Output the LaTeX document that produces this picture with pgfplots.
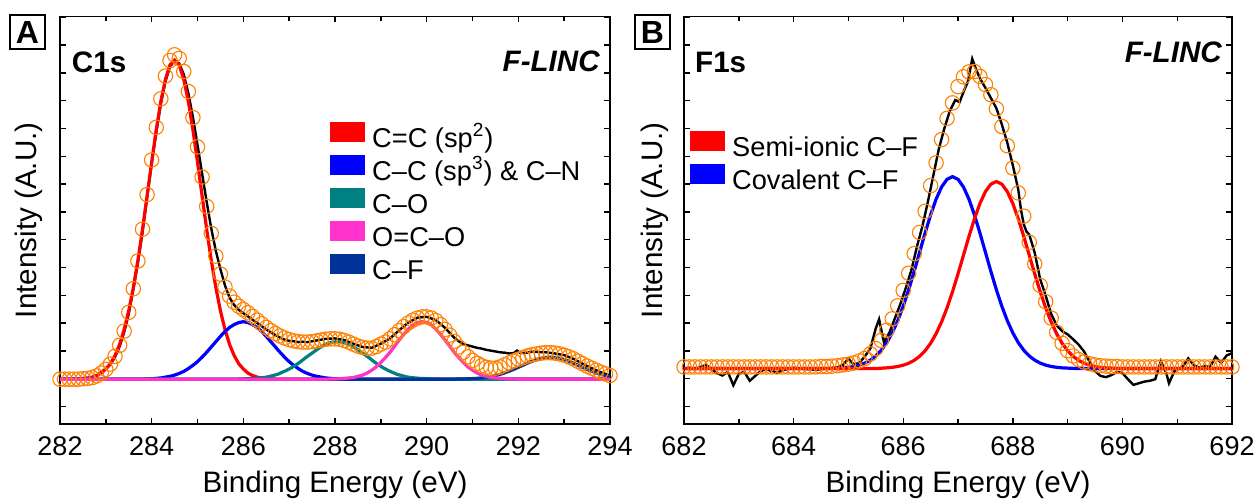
\documentclass[border=0pt]{standalone}
\usepackage{pgfplots}
\pgfplotsset{compat=1.18}
\usepackage{fontspec}
\setmainfont{Liberation Sans}

\definecolor{fitorange}{RGB}{255,128,0}
\definecolor{cteal}{RGB}{0,128,128}
\definecolor{cmag}{RGB}{255,51,204}
\definecolor{cnavy}{RGB}{0,51,153}

\tikzset{tag/.style={inner sep=0pt, font=\bfseries\fontsize{14.8}{17}\selectfont}}

\pgfplotsset{
  xps/.style={
    scale only axis, height=203.75pt,
    ymin=0, ymax=100,
    ytick={4.3,11.12,...,98}, yticklabels={},
    minor x tick num=1,
    tick align=inside,
    major tick length=3pt, minor tick length=2.5pt,
    axis line style={line width=0.8pt},
    every tick/.style={black, line width=0.7pt},
    tick label style={font=\fontsize{13.5}{15}\selectfont},
    xticklabel style={yshift=-3pt},
    /pgf/number format/assume math mode=true,
    xlabel={Binding Energy (eV)},
    ylabel={Intensity (A.U.)},
    label style={font=\fontsize{14.8}{17}\selectfont},
    xlabel style={at={(axis description cs:0.5,-0.15)}, anchor=center},
    legend cell align=left,
    legend image code/.code={\fill (0pt,-0.5pt) rectangle (17pt,9pt);},
    legend style={draw=none, fill=none, inner sep=0pt, row sep=0.3pt, column sep=3pt,
      anchor=north west, font=\fontsize{13.6}{15}\selectfont,
      nodes={inner sep=0.5pt, text height=10pt, text depth=3pt}},
  },
  fitpts/.style={only marks, mark=o, mark size=3.6pt, color=fitorange,
    mark options={line width=0.55pt}, forget plot},
  comp/.style={line width=1.6pt, no marks, forget plot},
  raw/.style={black, line width=1.2pt, no marks, forget plot},
}

\begin{document}
\begin{tikzpicture}
\path[use as bounding box] (0pt,0pt) rectangle (629pt,-251pt);

% panel labels
\node[draw, line width=0.8pt, inner sep=0pt, minimum width=17.5pt, minimum height=17pt,
  font=\bfseries\fontsize{16}{16}\selectfont] at (13.75pt,-16pt) {A};
\node[draw, line width=0.8pt, inner sep=0pt, minimum width=17.5pt, minimum height=17pt,
  font=\bfseries\fontsize{16}{16}\selectfont] at (326.25pt,-16pt) {B};

% ---------------- C1s ----------------
\begin{axis}[xps,
  at={(30pt,-8.25pt)}, anchor=north west, width=275pt,
  xmin=282, xmax=294, xtick={282,284,...,294},
  ylabel style={at={(axis description cs:-0.0564,0.5)}, anchor=center},
  legend style={at={(0.491,0.743)}},
]
% raw spectrum
\addplot[raw] coordinates {
(282.0,11.1) (282.2,11.0) (282.4,11.2) (282.6,11.1) (282.8,11.9) (283.0,13.6) (283.1,14.6)
(283.2,16.4) (283.3,19.0) (283.4,22.5) (283.5,27.0) (283.6,33.0) (283.7,39.5) (283.8,47.0)
(283.9,55.5) (284.0,63.8) (284.1,71.5) (284.2,78.5) (284.3,84.0) (284.4,87.8) (284.5,89.0)
(284.6,88.5) (284.7,85.8) (284.8,81.2) (284.9,75.3) (285.0,68.5) (285.1,61.5) (285.2,54.5)
(285.3,48.0) (285.4,42.5) (285.5,38.0) (285.6,34.0) (285.7,31.0) (285.8,29.2) (285.9,28.0)
(286.0,27.2) (286.1,26.4) (286.2,25.6) (286.3,24.8) (286.4,24.0) (286.5,23.2) (286.6,22.5)
(286.7,21.8) (286.8,21.2) (286.9,20.7) (287.0,20.4) (287.1,20.3) (287.2,20.1) (287.3,20.2)
(287.4,20.1) (287.6,20.5) (287.8,20.9) (288.0,21.0) (288.2,20.6) (288.4,19.7) (288.6,18.9)
(288.8,18.7) (289.0,19.7) (289.2,21.0) (289.4,23.0) (289.6,24.9) (289.8,26.1) (290.0,26.3)
(290.2,25.5) (290.4,23.6) (290.5,22.4) (290.6,21.2) (290.7,20.3) (290.8,19.6) (290.9,19.3)
(291.0,19.0) (291.1,18.7) (291.2,18.5) (291.3,18.2) (291.4,18.0) (291.5,17.8) (291.6,17.6)
(291.7,17.5) (291.8,17.3) (291.9,17.4) (291.97,18.0) (292.05,17.4) (292.2,17.5) (292.3,17.8)
(292.4,17.7) (292.5,17.6) (292.6,17.6) (292.8,17.3) (293.0,16.9) (293.2,16.0) (293.4,14.8)
(293.6,13.7) (293.8,12.7) (294.0,11.9)
};
% fitted envelope
\addplot[fitpts] coordinates {
(282.0,11.0) (282.1,11.0) (282.2,11.0) (282.3,11.0) (282.4,11.0) (282.5,11.1) (282.6,11.2)
(282.7,11.4) (282.8,11.8) (282.9,12.5) (283.0,13.4) (283.1,14.7) (283.2,16.6) (283.3,19.3)
(283.4,22.8) (283.5,27.4) (283.6,33.2) (283.7,40.0) (283.8,47.8) (283.9,56.3) (284.0,64.8)
(284.1,72.8) (284.2,79.8) (284.3,85.4) (284.4,89.2) (284.5,90.6) (284.6,89.7) (284.7,86.5)
(284.8,81.6) (284.9,75.2) (285.0,68.0) (285.1,60.6) (285.2,53.4) (285.3,46.8) (285.4,41.2)
(285.5,36.8) (285.6,33.6) (285.7,31.4) (285.8,29.9) (285.9,28.9) (286.0,28.1) (286.1,27.3)
(286.2,26.4) (286.3,25.5) (286.4,24.6) (286.5,23.7) (286.6,22.9) (286.7,22.2) (286.8,21.6)
(286.9,21.1) (287.0,20.7) (287.1,20.4) (287.2,20.2) (287.3,20.1) (287.4,20.1) (287.5,20.2)
(287.6,20.4) (287.7,20.6) (287.8,20.8) (287.9,20.9) (288.0,20.9) (288.1,20.8) (288.2,20.5)
(288.3,20.1) (288.4,19.6) (288.5,19.1) (288.6,18.8) (288.7,18.6) (288.8,18.6) (288.9,19.0)
(289.0,19.6) (289.1,20.1) (289.2,20.9) (289.3,21.9) (289.4,22.9) (289.5,23.9) (289.6,24.8)
(289.7,25.5) (289.8,26.0) (289.9,26.3) (290.0,26.3) (290.1,26.0) (290.2,25.4) (290.3,24.4)
(290.4,23.2) (290.5,21.8) (290.6,20.3) (290.7,18.9) (290.8,17.6) (290.9,16.5) (291.0,15.6)
(291.1,14.9) (291.2,14.3) (291.3,13.9) (291.4,13.7) (291.5,13.7) (291.6,14.0) (291.7,14.5)
(291.8,15.0) (291.9,15.5) (292.0,15.9) (292.1,16.3) (292.2,16.7) (292.3,17.0) (292.4,17.2)
(292.5,17.4) (292.6,17.5) (292.7,17.5) (292.8,17.4) (292.9,17.2) (293.0,16.9) (293.1,16.5)
(293.2,16.0) (293.3,15.4) (293.4,14.8) (293.5,14.2) (293.6,13.7) (293.7,13.2) (293.8,12.7)
(293.9,12.3) (294.0,11.9)
};
% C=C sp2
\addplot[comp, red] coordinates {
(282.0,11.0) (282.4,11.0) (282.5,11.2) (282.6,11.3) (282.7,11.5) (282.8,11.9) (282.9,12.5)
(283.0,13.5) (283.1,14.8) (283.2,16.8) (283.3,19.5) (283.4,23.2) (283.5,27.8) (283.6,33.5)
(283.7,40.2) (283.8,47.8) (283.9,56.0) (284.0,64.3) (284.1,72.2) (284.2,79.2) (284.3,84.6)
(284.4,88.1) (284.5,89.3) (284.6,88.1) (284.7,84.6) (284.8,79.2) (284.9,72.2) (285.0,64.3)
(285.1,56.0) (285.2,47.8) (285.3,40.2) (285.4,33.5) (285.5,27.8) (285.6,23.2) (285.7,19.5)
(285.8,16.8) (285.9,14.8) (286.0,13.5) (286.1,12.5) (286.2,11.9) (286.3,11.5) (286.4,11.3)
(286.5,11.2) (286.7,11.0) (294.0,11.0)
};
% C-C sp3 & C-N
\addplot[comp, blue] coordinates {
(282.0,11.0) (283.8,11.0) (284.0,11.1) (284.1,11.2) (284.2,11.3) (284.3,11.5) (284.4,11.7)
(284.5,12.0) (284.6,12.4) (284.7,12.9) (284.8,13.6) (284.9,14.4) (285.0,15.3) (285.1,16.4)
(285.2,17.6) (285.3,18.9) (285.4,20.2) (285.5,21.5) (285.6,22.7) (285.7,23.7) (285.8,24.4)
(285.9,24.9) (286.0,25.1) (286.1,24.9) (286.2,24.4) (286.3,23.7) (286.4,22.7) (286.5,21.5)
(286.6,20.2) (286.7,18.9) (286.8,17.6) (286.9,16.4) (287.0,15.3) (287.1,14.4) (287.2,13.6)
(287.3,12.9) (287.4,12.4) (287.5,12.0) (287.6,11.7) (287.7,11.5) (287.8,11.3) (287.9,11.2)
(288.0,11.1) (288.2,11.0) (294.0,11.0)
};
% C-O
\addplot[comp, cteal] coordinates {
(282.0,11.0) (285.85,11.0) (286.05,11.1) (286.25,11.2) (286.35,11.3) (286.45,11.4)
(286.55,11.6) (286.65,11.9) (286.75,12.2) (286.85,12.7) (286.95,13.2) (287.05,13.8)
(287.15,14.5) (287.25,15.3) (287.35,16.2) (287.45,17.0) (287.55,17.8) (287.65,18.6)
(287.75,19.3) (287.85,19.8) (287.95,20.1) (288.05,20.2) (288.15,20.1) (288.25,19.8)
(288.35,19.3) (288.45,18.6) (288.55,17.8) (288.65,17.0) (288.75,16.2) (288.85,15.3)
(288.95,14.5) (289.05,13.8) (289.15,13.2) (289.25,12.7) (289.35,12.2) (289.45,11.9)
(289.55,11.6) (289.65,11.4) (289.75,11.3) (289.85,11.2) (290.05,11.1) (290.25,11.0) (294.0,11.0)
};
% C-F
\addplot[comp, cnavy] coordinates {
(282.0,11.0) (290.6,11.0) (290.8,11.06) (290.9,11.09) (291.0,11.14) (291.1,11.21) (291.2,11.32)
(291.3,11.46) (291.4,11.64) (291.5,11.88) (291.6,12.18) (291.7,12.53) (291.8,12.95)
(291.9,13.41) (292.0,13.91) (292.1,14.43) (292.2,14.94) (292.3,15.41) (292.4,15.82)
(292.5,16.14) (292.6,16.33) (292.7,16.4) (292.8,16.33) (292.9,16.14) (293.0,15.82)
(293.1,15.41) (293.2,14.94) (293.3,14.43) (293.4,13.91) (293.5,13.41) (293.6,12.95)
(293.7,12.53) (293.8,12.18) (293.9,11.88) (294.0,11.64)
};
% O=C-O
\addplot[comp, cmag] coordinates {
(282.0,11.0) (287.8,11.0) (288.0,11.05) (288.1,11.1) (288.2,11.2) (288.3,11.3) (288.4,11.4)
(288.5,11.7) (288.6,12.0) (288.7,12.5) (288.8,13.2) (288.9,14.0) (289.0,15.1) (289.1,16.3)
(289.2,17.6) (289.3,19.1) (289.4,20.6) (289.5,22.0) (289.6,23.3) (289.7,24.3) (289.8,24.9)
(289.9,25.1) (290.0,24.9) (290.1,24.3) (290.2,23.3) (290.3,22.0) (290.4,20.6) (290.5,19.1)
(290.6,17.6) (290.7,16.3) (290.8,15.1) (290.9,14.0) (291.0,13.2) (291.1,12.5) (291.2,12.0)
(291.3,11.7) (291.4,11.4) (291.5,11.3) (291.6,11.2) (291.7,11.1) (291.8,11.05) (292.0,11.0)
(294.0,11.0)
};
\addlegendimage{red}
\addlegendentry{C=C (sp\textsuperscript{2})}
\addlegendimage{blue}
\addlegendentry{C–C (sp\textsuperscript{3}) \& C–N}
\addlegendimage{cteal}
\addlegendentry{C–O}
\addlegendimage{cmag}
\addlegendentry{O=C–O}
\addlegendimage{cnavy}
\addlegendentry{C–F}
\node[tag, anchor=west] at (rel axis cs:0.021,0.888) {C1s};
\node[tag, anchor=east, font=\bfseries\itshape\fontsize{14.8}{17}\selectfont] at (rel axis cs:0.982,0.889) {F-LINC};
\end{axis}

% ---------------- F1s ----------------
\begin{axis}[xps,
  at={(342pt,-8.25pt)}, anchor=north west, width=274pt,
  xmin=682, xmax=692, xtick={682,684,...,692},
  ylabel style={at={(axis description cs:-0.053,0.5)}, anchor=center},
  legend style={at={(0.011,0.719)}},
]
\addplot[raw] coordinates {
(682.0,13.6) (682.1,13.8) (682.2,13.4) (682.3,14.0) (682.4,14.5) (682.5,13.5) (682.6,12.5)
(682.7,11.9) (682.8,12.8) (682.9,9.5) (683.0,12.3) (683.1,12.8) (683.2,10.6) (683.3,11.8)
(683.4,13.0) (683.5,13.4) (683.6,13.0) (683.7,12.6) (683.8,13.2) (683.9,13.5) (684.0,13.8)
(684.2,13.5) (684.4,13.3) (684.6,13.6) (684.8,13.9) (684.9,14.5) (685.0,16.0) (685.1,14.6)
(685.2,15.0) (685.3,16.6) (685.4,18.5) (685.5,23.5) (685.56,25.7) (685.65,20.0) (685.75,22.5)
(685.85,26.0) (685.95,29.5) (686.05,33.5) (686.15,37.8) (686.25,43.5) (686.35,48.5)
(686.45,54.5) (686.55,61.0) (686.65,67.5) (686.75,72.5) (686.85,76.8) (686.95,79.5)
(687.03,79.0) (687.1,81.5) (687.18,84.0) (687.26,89.6) (687.33,87.0) (687.4,84.8)
(687.5,82.5) (687.6,80.0) (687.7,77.5) (687.8,73.5) (687.9,69.0) (688.0,63.5) (688.1,57.5)
(688.15,52.5) (688.2,49.0) (688.25,47.2) (688.3,46.5) (688.4,42.0) (688.5,35.5) (688.6,31.5)
(688.7,27.0) (688.8,24.2) (688.9,22.8) (689.0,22.0) (689.1,20.8) (689.2,19.5) (689.3,17.8)
(689.4,15.3) (689.5,13.0) (689.6,11.8) (689.7,11.5) (689.8,12.0) (689.9,12.8) (690.0,12.5)
(690.1,11.0) (690.2,9.6) (690.3,10.0) (690.4,10.4) (690.5,10.6) (690.6,11.0) (690.7,15.4)
(690.8,12.5) (690.85,10.0) (690.95,13.0) (691.1,14.0) (691.2,16.1) (691.3,14.5) (691.4,13.8)
(691.5,14.2) (691.6,14.0) (691.7,16.5) (691.8,15.0) (691.9,16.8) (692.0,17.4)
};
\addplot[fitpts] coordinates {
(682.0,14.0) (682.1,14.0) (682.2,14.0) (682.3,14.0) (682.4,14.0) (682.5,14.0) (682.6,14.0)
(682.7,14.0) (682.8,14.0) (682.9,14.0) (683.0,14.0) (683.1,14.0) (683.2,14.0) (683.3,14.0)
(683.4,14.0) (683.5,14.0) (683.6,14.0) (683.7,14.0) (683.8,14.0) (683.9,14.0) (684.0,14.0)
(684.1,14.0) (684.2,14.0) (684.3,14.0) (684.4,14.0) (684.5,14.1) (684.6,14.1) (684.7,14.2)
(684.8,14.3) (684.9,14.5) (685.0,14.7) (685.1,15.0) (685.2,15.5) (685.3,16.1) (685.4,17.2)
(685.5,18.5) (685.6,20.5) (685.7,23.0) (685.8,25.8) (685.9,29.0) (686.0,32.8) (686.1,37.0)
(686.2,41.8) (686.3,47.0) (686.4,52.2) (686.5,58.5) (686.6,64.1) (686.7,69.8) (686.8,75.0)
(686.9,78.8) (687.0,82.8) (687.1,85.2) (687.2,86.4) (687.3,86.5) (687.4,85.3) (687.5,83.3)
(687.6,80.8) (687.7,77.4) (687.8,73.0) (687.9,68.3) (688.0,62.8) (688.1,56.7) (688.2,51.0)
(688.3,44.6) (688.4,39.3) (688.5,34.0) (688.6,30.0) (688.7,26.0) (688.8,22.5) (688.9,19.8)
(689.0,18.0) (689.1,16.7) (689.2,15.8) (689.3,15.2) (689.4,14.8) (689.5,14.5) (689.6,14.3)
(689.7,14.2) (689.8,14.1) (689.9,14.1) (690.0,14.0) (690.1,14.0) (690.2,14.0) (690.3,14.0)
(690.4,14.0) (690.5,14.0) (690.6,14.0) (690.7,14.0) (690.8,14.0) (690.9,14.0) (691.0,14.0)
(691.1,14.0) (691.2,14.0) (691.3,14.0) (691.4,14.0) (691.5,14.0) (691.6,14.0) (691.7,14.0)
(691.8,14.0) (691.9,14.0) (692.0,14.0)
};
% covalent C-F
\addplot[comp, blue] coordinates {
(682.0,13.6) (684.7,13.6) (684.9,13.78) (685.0,13.91) (685.1,14.12) (685.2,14.45) (685.3,14.95)
(685.4,15.67) (685.5,16.69) (685.6,18.10) (685.7,19.97) (685.8,22.37) (685.9,25.35)
(686.0,28.89) (686.1,32.96) (686.2,37.45) (686.3,42.17) (686.4,46.88) (686.5,51.31)
(686.6,55.17) (686.7,58.16) (686.8,60.05) (686.9,60.7) (687.0,60.05) (687.1,58.16)
(687.2,55.17) (687.3,51.31) (687.4,46.88) (687.5,42.17) (687.6,37.45) (687.7,32.96)
(687.8,28.89) (687.9,25.35) (688.0,22.37) (688.1,19.97) (688.2,18.10) (688.3,16.69)
(688.4,15.67) (688.5,14.95) (688.6,14.45) (688.7,14.12) (688.8,13.91) (688.9,13.78)
(689.1,13.65) (689.3,13.6) (692.0,13.6)
};
% semi-ionic C-F
\addplot[comp, red] coordinates {
(682.0,13.6) (685.5,13.6) (685.7,13.78) (685.8,13.90) (685.9,14.11) (686.0,14.43) (686.1,14.91)
(686.2,15.62) (686.3,16.62) (686.4,17.99) (686.5,19.81) (686.6,22.15) (686.7,25.05)
(686.8,28.50) (686.9,32.47) (687.0,36.84) (687.1,41.44) (687.2,46.03) (687.3,50.35)
(687.4,54.11) (687.5,57.02) (687.6,58.87) (687.7,59.5) (687.8,58.87) (687.9,57.02)
(688.0,54.11) (688.1,50.35) (688.2,46.03) (688.3,41.44) (688.4,36.84) (688.5,32.47)
(688.6,28.50) (688.7,25.05) (688.8,22.15) (688.9,19.81) (689.0,17.99) (689.1,16.62)
(689.2,15.62) (689.3,14.91) (689.4,14.43) (689.5,14.11) (689.6,13.90) (689.7,13.78)
(689.9,13.65) (690.1,13.6) (692.0,13.6)
};
\addlegendimage{red}
\addlegendentry{Semi-ionic C–F}
\addlegendimage{blue}
\addlegendentry{Covalent C–F}
\node[tag, anchor=west] at (rel axis cs:0.0197,0.888) {F1s};
\node[tag, anchor=east, font=\bfseries\itshape\fontsize{14.8}{17}\selectfont] at (rel axis cs:0.982,0.912) {F-LINC};
\end{axis}
\end{tikzpicture}
\end{document}
